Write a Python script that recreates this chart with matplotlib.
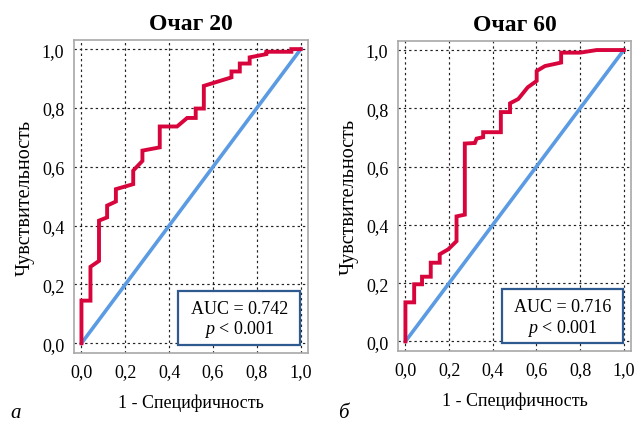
import matplotlib
matplotlib.use("Agg")
import matplotlib.pyplot as plt
from matplotlib.patches import Rectangle

# ROC data
fpr_20 = [0.0, 0.0, 0.041, 0.041, 0.08, 0.08, 0.117, 0.117, 0.157, 0.157, 0.236, 0.236, 0.278, 0.278,
          0.357, 0.357, 0.436, 0.482, 0.521, 0.521, 0.558, 0.558, 0.684, 0.684, 0.722, 0.722,
          0.767, 0.767, 0.843, 0.843, 0.957, 0.957, 1.0]
tpr_20 = [0.0, 0.145, 0.145, 0.26, 0.28, 0.417, 0.428, 0.468, 0.482, 0.524, 0.541, 0.587, 0.62, 0.655,
          0.666, 0.737, 0.737, 0.766, 0.766, 0.798, 0.798, 0.875, 0.904, 0.924, 0.924, 0.951,
          0.951, 0.972, 0.983, 0.991, 0.991, 1.0, 1.0]

fpr_60 = [0.0, 0.0, 0.04, 0.04, 0.076, 0.076, 0.116, 0.116, 0.157, 0.157, 0.196, 0.234, 0.234, 0.272,
          0.272, 0.318, 0.326, 0.356, 0.356, 0.437, 0.437, 0.479, 0.479, 0.517, 0.56, 0.601,
          0.601, 0.639, 0.713, 0.713, 0.8, 0.876, 1.0]
tpr_60 = [0.0, 0.134, 0.134, 0.196, 0.196, 0.222, 0.222, 0.27, 0.27, 0.299, 0.316, 0.344, 0.429, 0.435,
          0.679, 0.681, 0.696, 0.701, 0.718, 0.718, 0.787, 0.787, 0.817, 0.832, 0.872, 0.894,
          0.928, 0.945, 0.957, 0.991, 0.991, 1.0, 1.0]

titles = ["Очаг 20", "Очаг 60"]
auc_values = ["0.742", "0.716"]
panel_letters = ["а", "б"]
ticks = [0.0, 0.2, 0.4, 0.6, 0.8, 1.0]
tick_labels = ["0,0", "0,2", "0,4", "0,6", "0,8", "1,0"]

plt.rcParams['font.family'] = ['Liberation Serif', 'DejaVu Serif']
plt.rcParams['mathtext.fontset'] = 'custom'
plt.rcParams['mathtext.rm'] = 'Liberation Serif'
plt.rcParams['mathtext.it'] = 'Liberation Serif:italic'

red = "#d8043c"
blue = "#5b9be3"
box_col = "#2f5a8f"

fig = plt.figure(figsize=(6.38, 4.27), dpi=100)
W, H = 638, 427
# axes rectangles in pixels: left, top, right, bottom
rects = [(74, 41, 308, 354), (398, 42, 631, 352)]
letter_x = [10, 338]

curves = [(fpr_20, tpr_20), (fpr_60, tpr_60)]
for i in range(2):
    l, t, r, b = rects[i]
    ax = fig.add_axes([l / W, 1 - b / H, (r - l) / W, (b - t) / H])
    ax.set_xlim(-0.034, 1.033)
    ax.set_ylim(-0.033, 1.031)
    ax.set_xticks(ticks)
    ax.set_yticks(ticks)
    ax.set_xticklabels(tick_labels, fontsize=13)
    ax.set_yticklabels(tick_labels, fontsize=13)
    ax.tick_params(length=0, pad=7)
    ax.grid(True, color="#222222", linestyle=(0, (2, 2.5)), linewidth=0.85)
    ax.set_axisbelow(True)
    for s in ax.spines.values():
        s.set_color("#a8a8a8")
        s.set_linewidth(1.2)

    # reference diagonal and ROC curve
    ax.plot([0, 1], [0, 1], color=blue, linewidth=2.6, zorder=3)
    x, y = curves[i]
    ax.plot(x, y, color=red, linewidth=2.8, zorder=4, solid_joinstyle="miter")

    ax.set_title(titles[i], fontsize=17, fontweight="bold", pad=8)
    ax.set_xlabel("1 - Специфичность", fontsize=13, labelpad=10)
    ax.set_ylabel("Чувствительность", fontsize=14.5, labelpad=5)

    # AUC box
    ax.add_patch(Rectangle((0.445, 0.025), 0.522, 0.174, transform=ax.transAxes,
                           facecolor="white", edgecolor=box_col, linewidth=1.6, zorder=6))
    ax.text(0.706, 0.142, "AUC = " + auc_values[i], transform=ax.transAxes,
            ha="center", va="center", fontsize=13, zorder=7)
    ax.text(0.706, 0.077, "$p$ < 0.001", transform=ax.transAxes,
            ha="center", va="center", fontsize=13, zorder=7)

    fig.text(letter_x[i] / W, 1 - 418 / H, panel_letters[i], fontsize=15,
             style="italic", ha="left", va="baseline")

fig.savefig("out.png", dpi=100)
